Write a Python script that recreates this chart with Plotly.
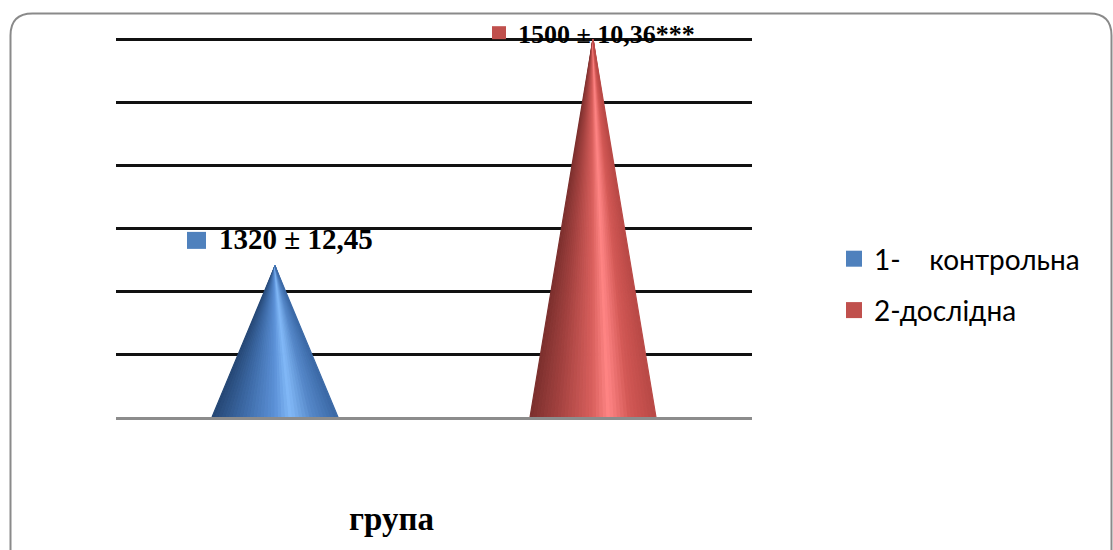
import plotly.graph_objects as go

# Group names, mean values, standard errors and significance marks
groups = ["1-\u00a0\u00a0\u00a0\u00a0контрольна", "2-дослідна"]
means = [1320, 1500]
errors = ["12,45", "10,36"]
signif = ["", "***"]
axis_min, axis_max, axis_step = 1200, 1500, 50
axis_top = 1520  # headroom above the last gridline for the labels

# Cone shading: colour stops across the cone from left edge to right edge
shades = [
    [(0.0, (37, 70, 115)), (0.25, (61, 106, 166)), (0.5, (91, 144, 214)),
     (0.63, (130, 185, 247)), (0.8, (85, 135, 200)), (1.0, (58, 104, 165))],
    [(0.0, (122, 47, 45)), (0.25, (168, 68, 66)), (0.5, (217, 96, 93)),
     (0.63, (255, 133, 133)), (0.8, (210, 88, 85)), (1.0, (184, 73, 70))],
]
key_colors = ["#4F81BD", "#C0504D"]


def shade_at(stops, t):
    for (t0, c0), (t1, c1) in zip(stops[:-1], stops[1:]):
        if t0 <= t <= t1:
            f = (t - t0) / (t1 - t0)
            c = [round(a + (b - a) * f) for a, b in zip(c0, c1)]
            return "rgb({},{},{})".format(*c)
    return "rgb({},{},{})".format(*stops[-1][1])


fig = go.Figure()

half_w = 0.198
n_strips = 36
for gi, val in enumerate(means):
    # each cone is a fan of thin triangles meeting at the apex
    for k in range(n_strips):
        xa = gi - half_w + 2 * half_w * k / n_strips
        xb = gi - half_w + 2 * half_w * (k + 1) / n_strips
        col = shade_at(shades[gi], (k + 0.5) / n_strips)
        fig.add_trace(go.Scatter(
            x=[xa, xb, gi, xa], y=[axis_min, axis_min, val, axis_min],
            mode="lines", fill="toself", fillcolor=col,
            line=dict(color=col, width=1.2),
            hoverinfo="skip", showlegend=False))

for gi, name in enumerate(groups):
    fig.add_trace(go.Scatter(
        x=[None], y=[None], mode="markers", name=name,
        legendgroup=str(gi),
        marker=dict(symbol="square", size=16, color=key_colors[gi])))

# value labels with a colour key next to each
label_style = [
    dict(size=29, xshift=-58, yshift=27, key=(-88, -69, 17, 34)),
    dict(size=26, xshift=-77, yshift=5, key=(-101, -87, 0, 13)),
]
for gi, val in enumerate(means):
    st = label_style[gi]
    fig.add_annotation(
        x=gi, y=val, xref="x", yref="y",
        text="<b>{} ± {}{}</b>".format(val, errors[gi], signif[gi]),
        showarrow=False, xanchor="left", yanchor="middle",
        xshift=st["xshift"], yshift=st["yshift"],
        font=dict(family="Liberation Serif", size=st["size"], color="black"))
    kx0, kx1, ky0, ky1 = st["key"]
    fig.add_shape(
        type="rect", xref="x", yref="y",
        xsizemode="pixel", ysizemode="pixel",
        xanchor=gi, yanchor=val, x0=kx0, x1=kx1, y0=ky0, y1=ky1,
        fillcolor=key_colors[gi], line=dict(width=0))

W, H = 1113, 550
L, R, B = 116, 361, 133
base_px, top_grid_px = 416.7, 39.3
unit_px = (base_px - top_grid_px) / (axis_max - axis_min)
T = round(top_grid_px - (axis_top - axis_max) * unit_px)
PW, PH = W - L - R, H - T - B


def px(xp):
    return (xp - L) / PW


def py(yp):
    return (H - B - yp) / PH


# axis title
fig.add_annotation(
    x=px(391), y=py(519), xref="paper", yref="paper",
    text="<b>група</b>", showarrow=False, xanchor="center", yanchor="middle",
    font=dict(family="Liberation Serif", size=33, color="black"))

# rounded frame around the chart
r = 22
lft, top, rgt, bot = 10.5, 13.5, 1111.5, 580
frame = (
    f"M {px(lft)},{py(bot)} L {px(lft)},{py(top + r)} "
    f"Q {px(lft)},{py(top)} {px(lft + r)},{py(top)} "
    f"L {px(rgt - r)},{py(top)} "
    f"Q {px(rgt)},{py(top)} {px(rgt)},{py(top + r)} "
    f"L {px(rgt)},{py(bot)}"
)
fig.add_shape(type="path", xref="paper", yref="paper", path=frame,
              line=dict(color="#8a8a8a", width=2))

fig.update_layout(
    width=W, height=H,
    margin=dict(l=L, r=R, t=T, b=B),
    paper_bgcolor="white", plot_bgcolor="white",
    showlegend=True,
    legend=dict(x=px(834), y=py(234), xanchor="left", yanchor="top",
                font=dict(family="Lato", size=28, color="black"),
                tracegroupgap=12, bgcolor="rgba(0,0,0,0)"),
    xaxis=dict(range=[-0.5, 1.5], showticklabels=False, showgrid=False,
               zeroline=False, showline=True, linecolor="#8c8c8c",
               linewidth=3, ticks=""),
    yaxis=dict(range=[axis_min, axis_top], tick0=axis_min, dtick=axis_step,
               showticklabels=False, showgrid=True, gridcolor="#111111",
               gridwidth=2.5, zeroline=False, ticks=""),
)

fig.write_html("out.html")
